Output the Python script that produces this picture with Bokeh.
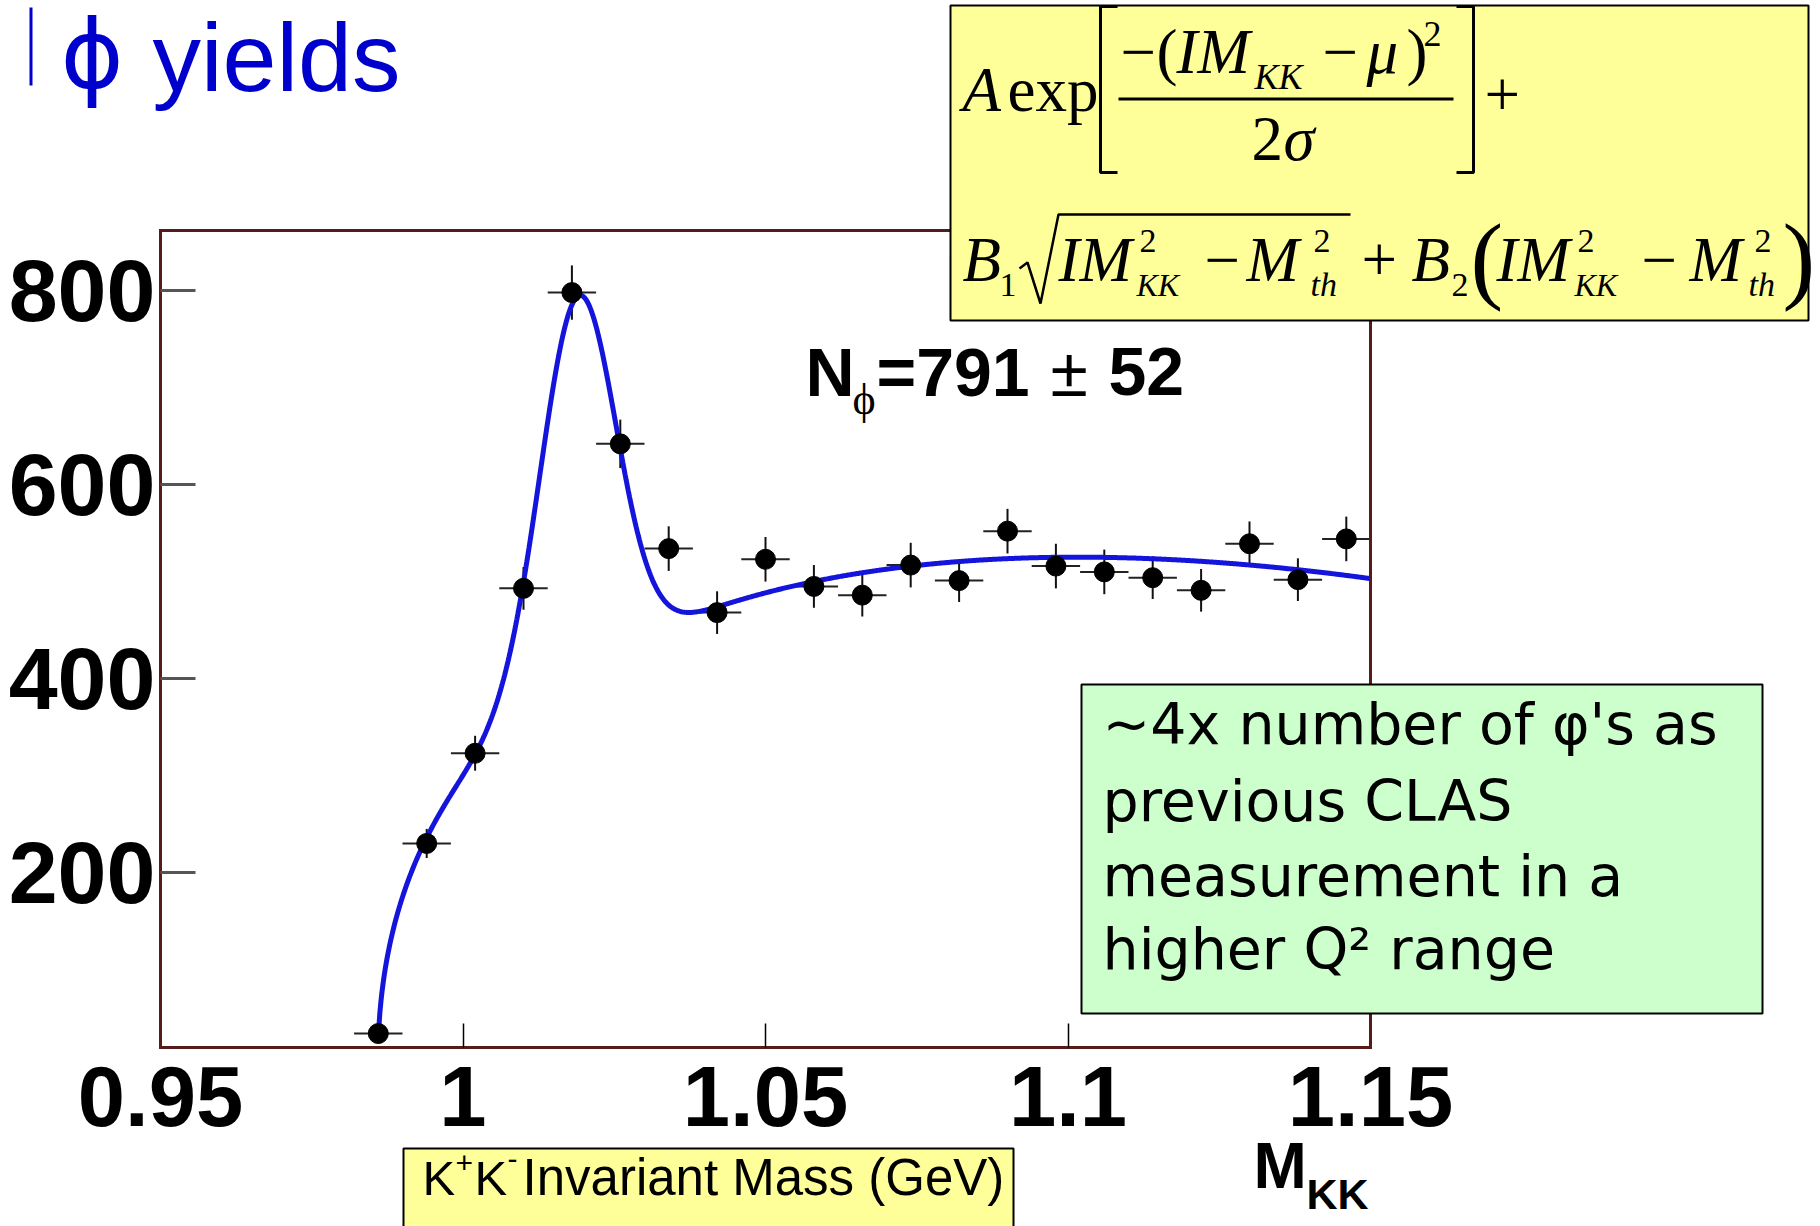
import numpy as np
from bokeh.plotting import figure
from bokeh.models import (Label, BoxAnnotation, PolyAnnotation, FixedTicker,
                          CustomJSTickFormatter, Range1d, LinearAxis)
from bokeh.embed import file_html
from bokeh.resources import INLINE

# K+K- invariant-mass spectrum: bin centres (GeV), counts and errors
mass = [0.986, 0.994, 1.002, 1.010, 1.018, 1.026, 1.034, 1.042, 1.050, 1.058, 1.066,
        1.074, 1.082, 1.090, 1.098, 1.106, 1.114, 1.122, 1.130, 1.138, 1.146]
counts = [34, 230, 323, 493, 798, 642, 534, 468, 523, 495, 486,
          517, 501, 552, 516, 510, 504, 491, 539, 502, 544]
count_err = [6, 15, 18, 22, 28, 25, 23, 22, 23, 22, 22,
             23, 22, 23, 23, 23, 22, 22, 23, 22, 23]
bin_half_width = 0.004

# fit: Gaussian phi peak on a threshold background
fit_A = 388.0
fit_mu = 1.019
fit_sigma = 0.0062
fit_B1 = 2138.0
fit_B2 = -2176.0
fit_Mth = 0.9859

x_ticks = [0.95, 1.0, 1.05, 1.1, 1.15]
y_ticks = [200, 400, 600, 800]
x_lo, x_hi = 0.95, 1.15
y_lo, y_hi = 19.6, 862.0

# page geometry: the histogram box sits inside a full-page drawing area
W, H = 1820, 1226
BOX_L, BOX_R, BOX_T, BOX_B = 160, 1370, 230, 1047
dx = (x_hi - x_lo) / (BOX_R - BOX_L)
dy = (y_hi - y_lo) / (BOX_B - BOX_T)
x_range = Range1d(x_lo - BOX_L * dx, x_hi + (W - BOX_R) * dx)
y_range = Range1d(y_lo - (H - BOX_B) * dy, y_hi + BOX_T * dy)

p = figure(width=W, height=H, output_backend="svg", toolbar_location=None, title=None,
           x_range=x_range, y_range=y_range, min_border=0,
           x_axis_location=None, y_axis_location=None)
p.grid.visible = False
p.background_fill_color = "white"
p.border_fill_color = "white"
p.outline_line_color = None

FRAME_COLOR = "#561c1c"


def frame_axis(cls_kwargs):
    ax = LinearAxis(axis_line_color=FRAME_COLOR, axis_line_width=3, axis_line_cap="square",
                    minor_tick_line_color=None, major_tick_out=0, **cls_kwargs)
    return ax


xaxis = frame_axis(dict(fixed_location=y_lo, bounds=(x_lo, x_hi),
                        ticker=FixedTicker(ticks=x_ticks),
                        formatter=CustomJSTickFormatter(code="return String(tick)"),
                        major_tick_in=24, major_tick_line_color="black",
                        major_tick_line_width=1.5,
                        major_label_text_font="Liberation Sans",
                        major_label_text_font_style="bold",
                        major_label_text_font_size="85px",
                        major_label_text_color="black",
                        major_label_standoff=19))
yaxis = frame_axis(dict(fixed_location=x_lo, bounds=(y_lo, y_hi),
                        ticker=FixedTicker(ticks=y_ticks),
                        major_tick_in=35, major_tick_line_color="#555555",
                        major_tick_line_width=3,
                        major_label_text_font="Liberation Sans",
                        major_label_text_font_style="bold",
                        major_label_text_font_size="88px",
                        major_label_text_color="black",
                        major_label_standoff=5))
top_edge = frame_axis(dict(fixed_location=y_hi, bounds=(x_lo, x_hi),
                           ticker=FixedTicker(ticks=[]), major_tick_line_color=None,
                           major_label_text_color=None))
right_edge = frame_axis(dict(fixed_location=x_hi, bounds=(y_lo, y_hi),
                             ticker=FixedTicker(ticks=[]), major_tick_line_color=None,
                             major_label_text_color=None))
p.add_layout(xaxis, "below")
p.add_layout(yaxis, "left")
p.add_layout(top_edge, "above")
p.add_layout(right_edge, "right")

# fit curve, kept inside the histogram box
m = np.linspace(fit_Mth, x_hi, 900)
u = np.clip(m ** 2 - fit_Mth ** 2, 0, None)
fit = (fit_A * np.exp(-(m - fit_mu) ** 2 / (2 * fit_sigma ** 2))
       + fit_B1 * np.sqrt(u) + fit_B2 * u)
fit = np.where(fit >= y_lo, fit, np.nan)

mx = np.array(mass)
cy = np.array(counts)
ey = np.array(count_err)

# error bars and data points
p.segment(mx - bin_half_width, cy, mx + bin_half_width, cy, line_color="#222222", line_width=2)
p.segment(mx, cy - ey, mx, cy + ey, line_color="#111111", line_width=2)
p.line(m, fit, line_color="#1414dc", line_width=5)
p.scatter(mx, cy, size=20, marker="circle", fill_color="black", line_color="black")


def sx(px):
    return px


def sy(py):
    return H - py


# labels are anchored a little below the requested point; shift by this
# fraction of the font size so that py is the text baseline
BASELINE_SHIFT = 0.38


def box(l, t, r, b, fill, line="black", lw=2):
    p.add_layout(BoxAnnotation(left=sx(l), right=sx(r), top=sy(t), bottom=sy(b),
                               left_units="screen", right_units="screen",
                               top_units="screen", bottom_units="screen",
                               fill_color=fill, fill_alpha=1.0,
                               line_color=line, line_alpha=1.0, line_width=lw,
                               level="annotation"))


def stroke(points, lw=3, color="black"):
    # open polyline drawn as a retraced polygon
    pts = list(points) + list(points[-2:0:-1])
    p.add_layout(PolyAnnotation(xs=[sx(a) for a, _ in pts], ys=[sy(b) for _, b in pts],
                                xs_units="screen", ys_units="screen",
                                fill_color=None, fill_alpha=0.0,
                                line_color=color, line_alpha=1.0, line_width=lw,
                                level="overlay"))


def txt(s, px, py, size, font="Liberation Sans", style="normal", color="black"):
    p.add_layout(Label(x=sx(px), y=sy(py - BASELINE_SHIFT * size),
                       x_units="screen", y_units="screen", text=s,
                       text_font=font, text_font_size=f"{size}px", text_font_style=style,
                       text_color=color, text_align="left", text_baseline="alphabetic",
                       level="overlay"))


# slide title
box(29, 7, 32, 85, "#0000cc", line=None, lw=0)
txt("ϕ", 60, 91, 96, font="DejaVu Sans", color="#0000cc")
txt("yields", 152, 94, 97, font="Liberation Sans", color="#0000cc")

# fitted yield
txt("N", 805, 397, 68, style="bold")
txt("ϕ", 852, 416, 44, font="Liberation Serif")
txt("=791", 876, 397, 68, style="bold")
txt("±", 1050, 397, 68)
txt("52", 1108, 397, 68, style="bold")

# fit function box
box(950, 5, 1808, 320, "#ffff99")
SERIF = "Liberation Serif"
big, small = 63, 34
txt("A", 962, 113, big, SERIF, "italic")
txt("exp", 1007, 113, big, SERIF)
stroke([(1117, 6), (1100, 6), (1100, 172), (1117, 172)])
stroke([(1456, 6), (1473, 6), (1473, 172), (1456, 172)])
txt("\u2212", 1120, 75, big, SERIF)
txt("(", 1156, 75, big, SERIF)
txt("IM", 1176, 75, big, SERIF, "italic")
txt("KK", 1254, 90, 36, SERIF, "italic")
txt("\u2212", 1322, 75, big, SERIF)
txt("μ", 1366, 75, big, SERIF, "italic")
txt(")", 1406, 75, big, SERIF)
txt("2", 1423, 47, 36, SERIF)
box(1118, 97, 1453, 100, "black", line=None, lw=0)
txt("2", 1251, 162, big, SERIF)
txt("σ", 1283, 162, big, SERIF, "italic")
txt("+", 1484, 118, big, SERIF)

txt("B", 962, 283, big, SERIF, "italic")
txt("1", 999, 297, small, SERIF)
stroke([(1019, 268), (1027, 262), (1040, 303), (1058, 214), (1350, 214)], lw=2.5)
txt("IM", 1058, 283, big, SERIF, "italic")
txt("2", 1139, 253, small, SERIF)
txt("KK", 1136, 297, 32, SERIF, "italic")
txt("\u2212", 1204, 283, big, SERIF)
txt("M", 1246, 283, big, SERIF, "italic")
txt("2", 1313, 253, small, SERIF)
txt("th", 1310, 297, small, SERIF, "italic")
txt("+", 1361, 283, big, SERIF)
txt("B", 1411, 283, big, SERIF, "italic")
txt("2", 1451, 297, small, SERIF)
txt("(", 1470, 295, 98, SERIF)
txt("IM", 1496, 283, big, SERIF, "italic")
txt("2", 1577, 253, small, SERIF)
txt("KK", 1574, 297, 32, SERIF, "italic")
txt("\u2212", 1641, 283, big, SERIF)
txt("M", 1689, 283, big, SERIF, "italic")
txt("2", 1754, 253, small, SERIF)
txt("th", 1748, 297, small, SERIF, "italic")
txt(")", 1782, 295, 98, SERIF)

# comparison note
box(1081, 684, 1762, 1013, "#ccffcc")
note_lines = ["~4x number of φ's as", "previous CLAS", "measurement in a", "higher Q² range"]
for line, base in zip(note_lines, [745, 822, 897, 970]):
    txt(line, 1102, base, 57, font="DejaVu Sans")

# axis titles
box(403, 1148, 1013, 1240, "#ffff99")
txt("K", 422, 1196, 49)
txt("+", 455, 1174, 30)
txt("K", 474, 1196, 49)
txt("-", 507, 1170, 30)
txt("Invariant Mass (GeV)", 522, 1196, 51)
txt("M", 1253, 1190, 64, style="bold")
txt("KK", 1306, 1210, 43, style="bold")

open("out.html", "w").write(file_html(p, INLINE))
